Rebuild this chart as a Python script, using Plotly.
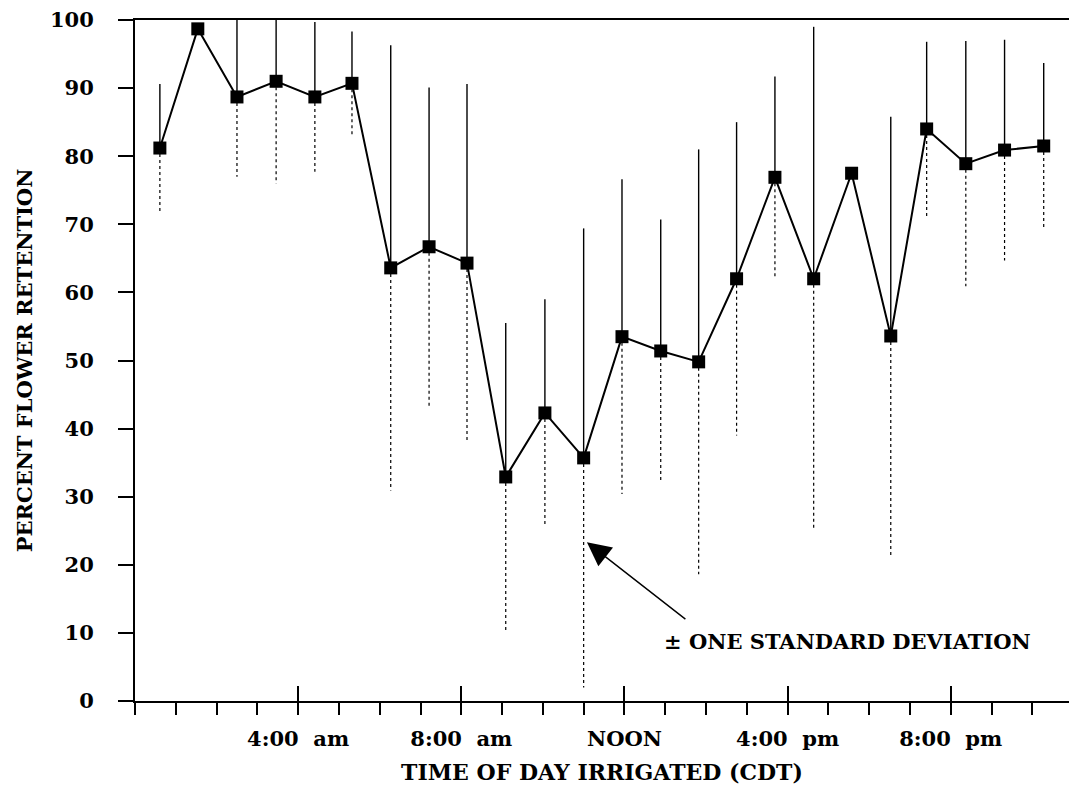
import numpy as np
import plotly.graph_objects as go

# ---- data ----
hours = [0.61, 1.54, 2.50, 3.46, 4.41, 5.32, 6.27, 7.21, 8.14, 9.09, 10.05, 11.00,
         11.94, 12.89, 13.82, 14.75, 15.69, 16.64, 17.57, 18.53, 19.41, 20.37, 21.32, 22.28]
retention = [81.2, 98.7, 88.7, 91.0, 88.7, 90.7, 63.6, 66.7, 64.3, 32.9, 42.3, 35.7,
             53.5, 51.4, 49.8, 62.0, 76.9, 62.0, 77.5, 53.6, 84.0, 78.9, 80.9, 81.5]
std_dev = [9.4, 0.0, 11.7, 15.0, 11.0, 7.6, 32.7, 23.4, 26.3, 22.6, 16.7, 33.7,
           23.1, 19.3, 31.2, 23.0, 14.8, 37.0, 0.0, 32.2, 12.8, 18.0, 16.2, 12.2]
tick_hours = [4, 8, 12, 16, 20]
tick_labels = ["4:00\u00a0 am", "8:00\u00a0 am", "NOON", "4:00\u00a0 pm", "8:00\u00a0 pm"]
y_ticks = [0, 10, 20, 30, 40, 50, 60, 70, 80, 90, 100]

FONT = "DejaVu Serif"

x = np.array(hours)
y = np.array(retention)
sd = np.array(std_dev)
upper = np.minimum(sd, 100 - y)

# lower halves of the error bars (dotted in the reference)
lx, ly = [], []
for xi, yi, si in zip(x, y, sd):
    if si > 0:
        lx += [xi, xi, None]
        ly += [yi, yi - si, None]

fig = go.Figure()
fig.add_trace(go.Scatter(
    x=lx, y=ly, mode="lines",
    line=dict(color="black", width=1.2, dash="3px,3px"),
    hoverinfo="skip", showlegend=False))
fig.add_trace(go.Scatter(
    x=x, y=y, mode="lines+markers",
    line=dict(color="black", width=2),
    marker=dict(symbol="square", size=13, color="black"),
    error_y=dict(type="data", symmetric=False, array=upper,
                 arrayminus=np.zeros_like(upper), width=0,
                 thickness=1.4, color="black"),
    showlegend=False))
# invisible trace on overlay axis carrying inside major ticks
fig.add_trace(go.Scatter(x=x, y=y, xaxis="x2", mode="markers",
                         marker=dict(opacity=0), hoverinfo="skip", showlegend=False))

fig.update_layout(
    width=1069, height=795,
    margin=dict(l=135, r=0, t=20, b=94),
    paper_bgcolor="white", plot_bgcolor="white",
    font=dict(family=FONT, color="black", weight="bold"),
    xaxis=dict(
        range=[0, 22.9], showgrid=False, zeroline=False,
        showline=True, linecolor="black", linewidth=2, mirror=True,
        tickmode="array", tickvals=tick_hours, ticktext=tick_labels,
        ticks="outside", ticklen=12, tickwidth=2, tickcolor="black",
        tickfont=dict(family=FONT, size=21, weight="bold"),
        ticklabelstandoff=6,
        minor=dict(dtick=1, tick0=0, ticks="outside", ticklen=12,
                   tickwidth=2, tickcolor="black", showgrid=False),
        title=dict(text="TIME OF DAY IRRIGATED (CDT)", standoff=14,
                   font=dict(family=FONT, size=22, weight="bold")),
    ),
    xaxis2=dict(
        overlaying="x", matches="x", anchor="y", side="bottom",
        showgrid=False, zeroline=False, showline=False,
        tickmode="array", tickvals=tick_hours, showticklabels=False,
        ticks="inside", ticklen=15, tickwidth=2, tickcolor="black",
    ),
    yaxis=dict(
        range=[0, 100], showgrid=False, zeroline=False,
        showline=True, linecolor="black", linewidth=2,
        tickmode="array", tickvals=y_ticks,
        ticks="outside", ticklen=15, tickwidth=2, tickcolor="black",
        tickfont=dict(family=FONT, size=21, weight="bold"),
        ticklabelstandoff=20,
        title=dict(text="PERCENT FLOWER RETENTION", standoff=12,
                   font=dict(family=FONT, size=21, weight="bold")),
    ),
)

# annotation: arrow and label
fig.add_annotation(x=11.08, y=23.3, xref="x", yref="y", text="",
                   showarrow=True, ax=100, ay=78, axref="pixel", ayref="pixel",
                   arrowhead=2, arrowsize=3.4, arrowwidth=1.4, arrowcolor="black")
fig.add_annotation(x=12.92, y=8.7, xref="x", yref="y",
                   text="\u00b1 ONE STANDARD DEVIATION", showarrow=False,
                   xanchor="left", yanchor="middle",
                   font=dict(family=FONT, size=21, weight="bold", color="black"))

fig.write_html("out.html")
